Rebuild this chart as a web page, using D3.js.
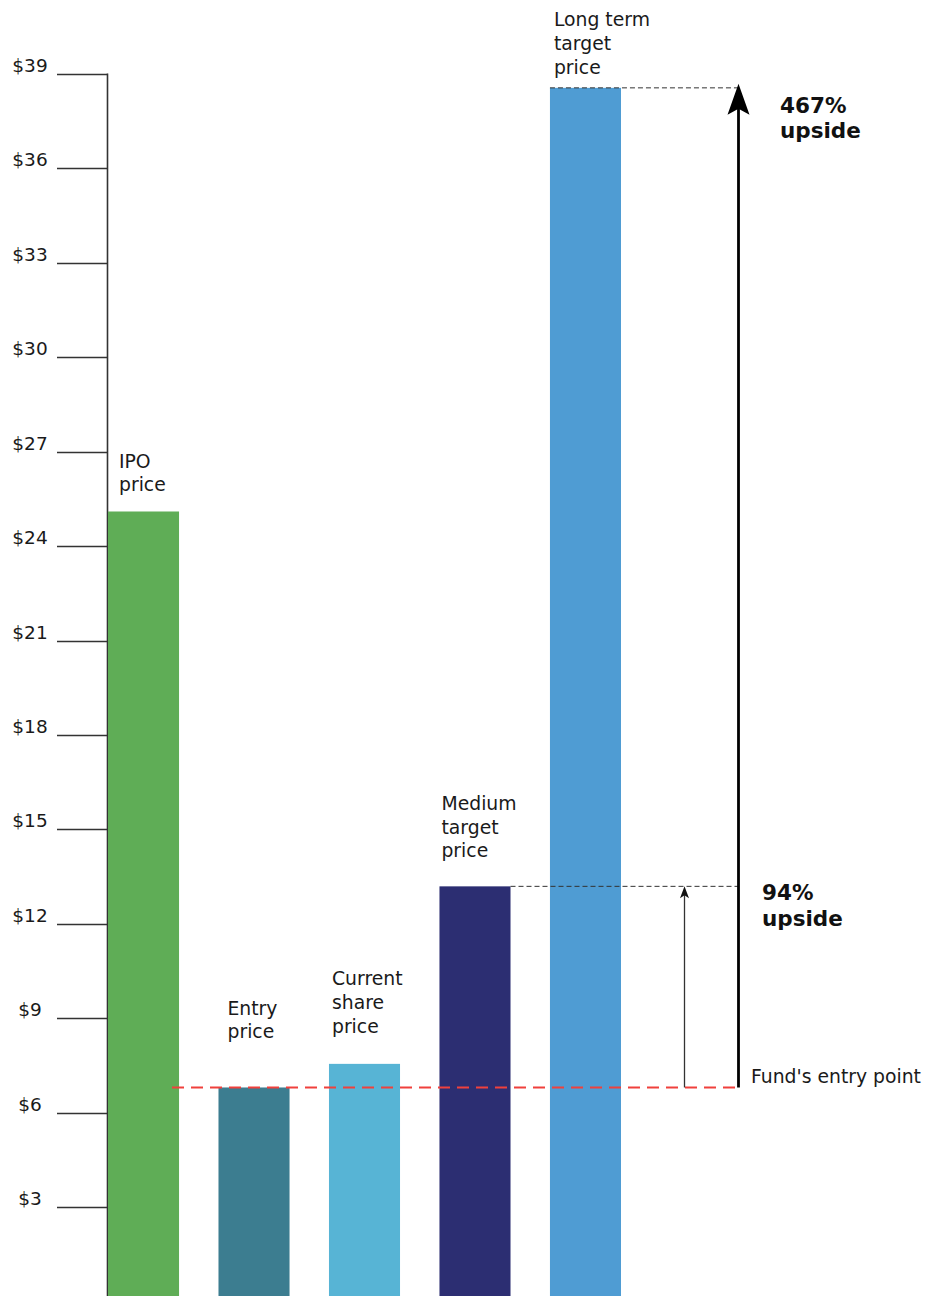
<!DOCTYPE html>
<html>
<head>
<meta charset="utf-8">
<script src="https://cdn.jsdelivr.net/npm/d3@7"></script>
<style>
  html, body { margin: 0; padding: 0; background: #fff; }
  svg { display: block; font-family: "DejaVu Sans", Verdana, sans-serif; }
</style>
</head>
<body>
<svg id="vis-svg"></svg>
<script>
// chart data
var categories = ["IPO price", "Entry price", "Current share price", "Medium target price", "Long term target price"];
var prices = [25.1, 6.8, 7.55, 13.19, 38.56];
var tickValues = [3, 6, 9, 12, 15, 18, 21, 24, 27, 30, 33, 36, 39];
var labelLines = [["IPO", "price"], ["Entry", "price"], ["Current", "share", "price"], ["Medium", "target", "price"], ["Long term", "target", "price"]];
var entryPoint = 6.8;
var upsideLabels = [["94%", "upside"], ["467%", "upside"]];
var entryLabel = "Fund's entry point";

function colorMap(name) {
  switch(name) {
    case "IPO price": return "#5FAD56";
    case "Entry price": return "#3C7D90";
    case "Current share price": return "#57B4D5";
    case "Medium target price": return "#2C2E72";
    case "Long term target price": return "#4F9CD3";
  }
}

var width = 928;
var height = 1296;

var svg = d3.select('#vis-svg')
  .attr('width', width)
  .attr('height', height);

var yScale = d3.scaleLinear()
  .domain([0, 39])
  .range([1301.5, 74]);

var xScale = d3.scaleBand()
  .domain(categories)
  .range([108, 621])
  .paddingInner(0.357)
  .paddingOuter(0);

// axis: ticks drawn as lines to the left of the spine
var axis = svg.append('g').attr('class', 'y axis');
axis.append('line')
  .attr('x1', 107.5).attr('x2', 107.5)
  .attr('y1', yScale(39) - 0.5).attr('y2', height + 10)
  .attr('stroke', '#333').attr('stroke-width', 1.6);

var ticks = axis.selectAll('.tick')
  .data(tickValues)
  .enter().append('g')
  .attr('class', 'tick');
ticks.append('line')
  .attr('x1', 57).attr('x2', 107.5)
  .attr('y1', function(d){ return Math.round(yScale(d)) + 0.5; })
  .attr('y2', function(d){ return Math.round(yScale(d)) + 0.5; })
  .attr('stroke', '#333').attr('stroke-width', 1.4);
ticks.append('text')
  .attr('x', 30)
  .attr('y', function(d){ return yScale(d) - 2; })
  .attr('text-anchor', 'middle')
  .attr('font-size', 18.5)
  .attr('fill', '#1a1a1a')
  .text(function(d){ return '$' + d; });

// bars
svg.selectAll('rect.bar')
  .data(categories)
  .enter().append('rect')
  .attr('class', 'bar')
  .attr('x', function(d){ return xScale(d); })
  .attr('y', function(d, i){ return yScale(prices[i]); })
  .attr('width', xScale.bandwidth())
  .attr('height', function(d, i){ return yScale(0) - yScale(prices[i]); })
  .attr('fill', function(d){ return colorMap(d); });

// bar labels (offsets from each bar's top-left)
var labelDx = [11, 9, 3, 2, 4];
var labelDy = [-20, -49, -31, -29, -14];
var lineH = 23.7;
svg.selectAll('text.barlabel')
  .data(categories)
  .enter().append('text')
  .attr('class', 'barlabel')
  .attr('font-size', 18.8)
  .attr('fill', '#1a1a1a')
  .each(function(d, i) {
    var lines = labelLines[i];
    var x0 = xScale(d) + labelDx[i];
    var yLast = yScale(prices[i]) + labelDy[i];
    d3.select(this).selectAll('tspan')
      .data(lines)
      .enter().append('tspan')
      .attr('x', x0)
      .attr('y', function(l, j){ return yLast - (lines.length - 1 - j) * lineH; })
      .text(function(l){ return l; });
  });

var bigX = 738.5;
var smallX = 684.5;
var yEntry = yScale(entryPoint);
var yMed = yScale(prices[3]);
var yLong = yScale(prices[4]);

// grey dashed guides
svg.append('line')
  .attr('x1', xScale(categories[3]) + xScale.bandwidth()).attr('x2', bigX)
  .attr('y1', yMed).attr('y2', yMed)
  .attr('stroke', '#333').attr('stroke-width', 1)
  .attr('stroke-dasharray', '5,3');
svg.append('line')
  .attr('x1', xScale(categories[4])).attr('x2', bigX)
  .attr('y1', yLong).attr('y2', yLong)
  .attr('stroke', '#333').attr('stroke-width', 1)
  .attr('stroke-dasharray', '5,3');

// red dashed entry line
svg.append('line')
  .attr('x1', 172).attr('x2', bigX)
  .attr('y1', yEntry).attr('y2', yEntry)
  .attr('stroke', '#F0403C').attr('stroke-width', 2)
  .attr('stroke-dasharray', '12,7');

// small arrow (94%)
svg.append('line')
  .attr('x1', smallX).attr('x2', smallX)
  .attr('y1', yEntry).attr('y2', yMed + 8)
  .attr('stroke', '#333').attr('stroke-width', 1.3);
svg.append('path')
  .attr('d', d3.line()([[smallX, yMed], [smallX - 4.5, yMed + 12], [smallX, yMed + 9], [smallX + 4.5, yMed + 12]]) + 'Z')
  .attr('fill', '#111');

// big arrow (467%)
svg.append('line')
  .attr('x1', bigX).attr('x2', bigX)
  .attr('y1', yEntry).attr('y2', yLong + 20)
  .attr('stroke', '#000').attr('stroke-width', 2.8);
svg.append('path')
  .attr('d', d3.line()([[bigX, yLong - 4], [bigX - 11, yLong + 27], [bigX, yLong + 21], [bigX + 11, yLong + 27]]) + 'Z')
  .attr('fill', '#000');

// upside labels
var upX = [762, 780];
var upY = [yMed + 14, yLong + 25];
upsideLabels.forEach(function(lines, i) {
  var t = svg.append('text')
    .attr('font-size', 21.5)
    .attr('font-weight', 'bold')
    .attr('fill', '#111');
  t.selectAll('tspan')
    .data(lines)
    .enter().append('tspan')
    .attr('x', upX[i])
    .attr('y', function(l, j){ return upY[i] + j * 25.5; })
    .text(function(l){ return l; });
});

svg.append('text')
  .attr('x', 751)
  .attr('y', yEntry - 4)
  .attr('font-size', 18.8)
  .attr('fill', '#1a1a1a')
  .text(entryLabel);
</script>
</body>
</html>
